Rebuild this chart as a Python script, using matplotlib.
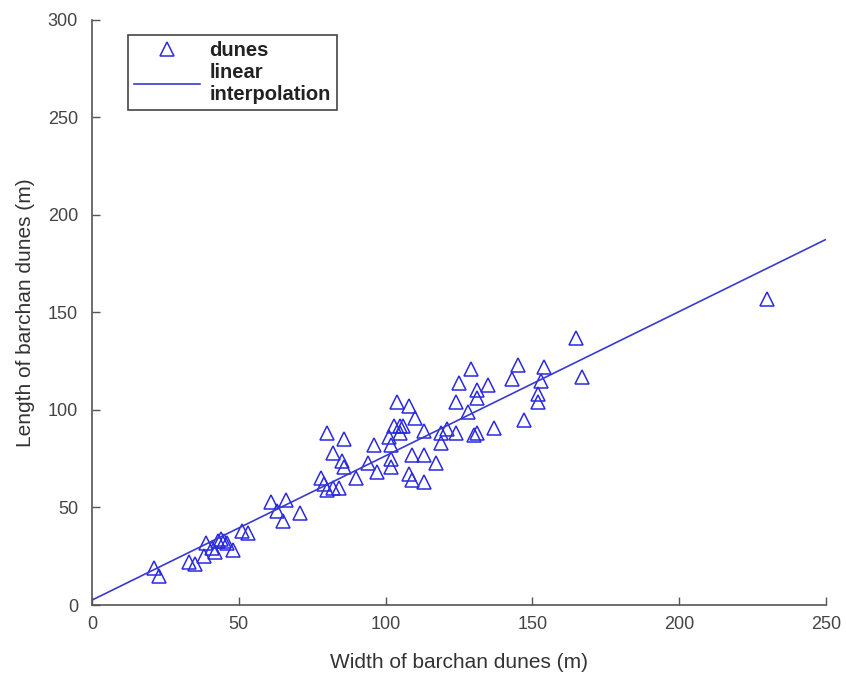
import numpy as np
import matplotlib
matplotlib.use("Agg")
import matplotlib.pyplot as plt

# dune width (m) and length (m)
width = [21, 23, 33, 35, 38, 39, 41, 42, 43, 44, 45, 46, 48, 51, 53,
         61, 63, 65, 66, 71, 78, 79, 80, 80, 82, 82, 84, 85, 86, 86,
         90, 94, 96, 97, 101, 102, 102, 103, 102, 104, 105, 105, 106, 108, 108,
         109, 109, 110, 113, 113, 113, 117, 119, 119, 121, 124, 124, 125, 128, 129,
         130, 131, 131, 131, 135, 137, 143, 145, 147, 152, 152, 153, 154, 165, 167,
         230]
length = [19, 15, 22, 21, 25, 32, 29, 27, 33, 34, 33, 32, 28, 38, 37,
          53, 48, 43, 54, 47, 65, 62, 59, 88, 78, 60, 60, 74, 85, 71,
          65, 73, 82, 68, 86, 82, 75, 92, 71, 104, 88, 92, 92, 102, 67,
          64, 77, 96, 63, 77, 89, 73, 88, 83, 90, 88, 104, 114, 99, 121,
          87, 110, 106, 88, 113, 91, 116, 123, 95, 108, 104, 115, 122, 137, 117,
          157]

# fitted line
fit_slope = 0.74
fit_intercept = 2.5
fit_x = [0, 250]

plt.rcParams['font.family'] = ['Liberation Sans', 'DejaVu Sans']

fig = plt.figure(figsize=(8.46, 6.82), dpi=100)
ax = fig.add_axes([0.1087, 0.1129, 0.8677, 0.8578])

blue = '#2a2ae0'
ax.plot(width, length, linestyle='none', marker='^', markersize=10.5,
        markerfacecolor='none', markeredgecolor=blue, markeredgewidth=1.1,
        label='dunes')
xs = np.array(fit_x)
ax.plot(xs, fit_slope * xs + fit_intercept, color='#3a3ad0', linewidth=1.2,
        label='linear\ninterpolation')

ax.set_xlim(0, 250)
ax.set_ylim(0, 300)
ax.set_xticks([0, 50, 100, 150, 200, 250])
ax.set_yticks([0, 50, 100, 150, 200, 250, 300])

for side in ['top', 'right']:
    ax.spines[side].set_visible(False)
for side in ['left', 'bottom']:
    ax.spines[side].set_color('#555555')
    ax.spines[side].set_linewidth(1.2)
ax.tick_params(direction='in', length=6, width=1, colors='#555555',
               labelsize=13, labelcolor='#444444')
ax.tick_params(axis='y', pad=10)
ax.tick_params(axis='x', pad=8)

ax.set_xlabel('Width of barchan dunes (m)', fontsize=15, color='#333333',
              labelpad=14)
ax.set_ylabel('Length of barchan dunes (m)', fontsize=15, color='#333333',
              labelpad=9)

leg = ax.legend(loc='upper left', bbox_to_anchor=(0.049, 0.975), fancybox=False,
                edgecolor='#444444', framealpha=1, fontsize=14.5,
                handlelength=3.3, borderpad=0.3, labelspacing=0.15,
                handletextpad=0.45, borderaxespad=0)
leg.get_frame().set_linewidth(1.2)
for t in leg.get_texts():
    t.set_fontweight('bold')
    t.set_color('#222222')

fig.savefig('out.png', dpi=100)
